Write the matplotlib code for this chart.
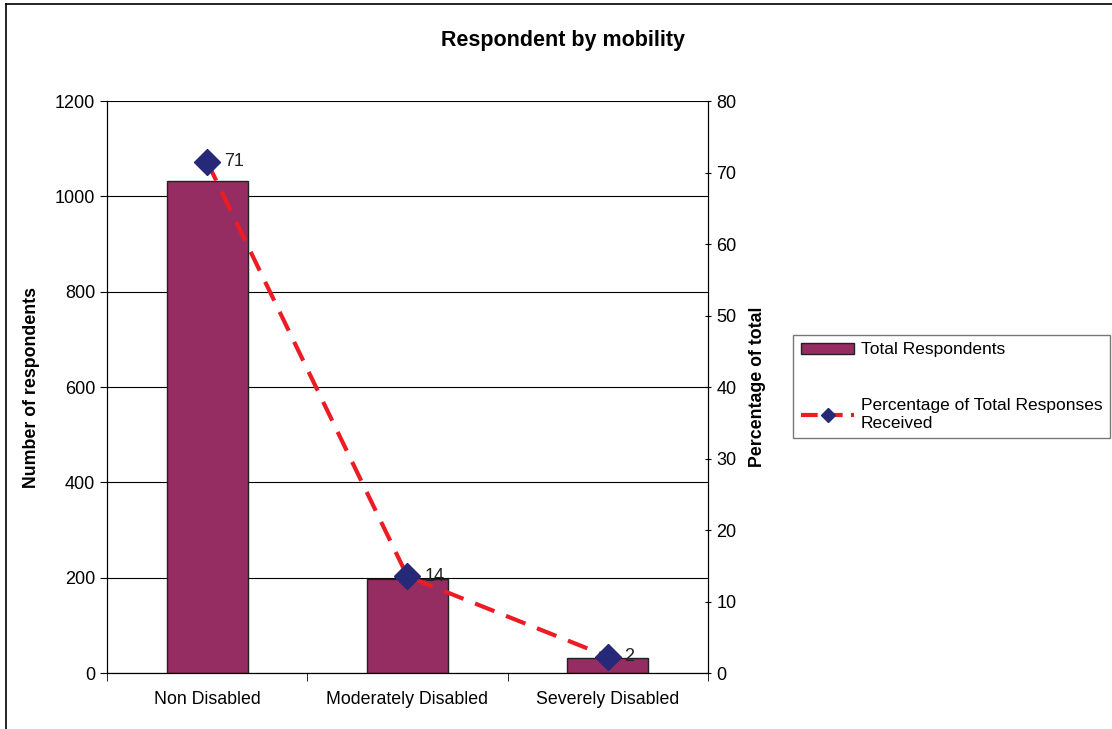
import matplotlib
matplotlib.use("Agg")
import matplotlib.pyplot as plt
from matplotlib.lines import Line2D
from matplotlib.patches import Patch
import numpy as np

plt.rcParams['font.family'] = ['Liberation Sans', 'DejaVu Sans']

categories = ["Non Disabled", "Moderately Disabled", "Severely Disabled"]
respondents = [1033, 198, 32]
percent = [71.5, 13.5, 2.3]
percent_labels = ["71", "14", "2"]

fig = plt.figure(figsize=(11.12, 7.29), dpi=100)
ax = fig.add_axes([0.0962, 0.0768, 0.5405, 0.7846])
ax2 = ax.twinx()

x = np.arange(len(categories))
ax.bar(x, respondents, width=0.405, color="#962D62", edgecolor="#222222",
       linewidth=1.0, zorder=2)
ax.set_xlim(-0.5, 2.5)
ax.set_ylim(0, 1200)
ax.set_yticks(range(0, 1201, 200))
ax.yaxis.grid(True, color="#000000", linewidth=0.8)
ax.set_axisbelow(True)
ax.set_xticks(x)
ax.set_xticklabels(categories, fontsize=12.8)
ax.tick_params(axis='x', length=0, pad=13)
ax.set_xticks([-0.5, 0.5, 1.5, 2.5], minor=True)
ax.tick_params(axis='x', which='minor', length=6, direction='out')
ax.tick_params(axis='y', labelsize=13, length=5, direction='out')
ax.spines["top"].set_visible(False)
ax.set_ylabel("Number of respondents", fontsize=12.8, fontweight="bold", labelpad=11)

ax2.plot(x, percent, color="#ED1C24", linestyle=(0, (5, 3)), linewidth=3,
         marker="D", markersize=13, markerfacecolor="#262878",
         markeredgecolor="#262878", zorder=3)
for xi, yi, t in zip(x, percent, percent_labels):
    ax2.annotate(t, (xi, yi), xytext=(12, 0), textcoords="offset points",
                 fontsize=13, va="center", ha="left", color="#222222")
ax2.set_ylim(0, 80)
ax2.set_yticks(range(0, 81, 10))
ax2.tick_params(axis='y', labelsize=13, length=5, direction='inout')
ax2.spines["top"].set_visible(False)
ax2.set_ylabel("Percentage of total", fontsize=12.8, fontweight="bold", labelpad=9)
ax.set_zorder(1)
ax2.set_zorder(2)

fig.text(0.506, 0.945, "Respondent by mobility", fontsize=15.5, fontweight="bold",
         ha="center", va="center")

h_bar = Patch(facecolor="#962D62", edgecolor="#222222", linewidth=1.0)
h_line = Line2D([], [], color="#ED1C24", linestyle=(0, (4, 2)), linewidth=3,
                marker="D", markersize=7, markerfacecolor="#262878",
                markeredgecolor="#262878")
leg = fig.legend([h_bar, h_line],
                 ["Total Respondents", "Percentage of Total Responses\nReceived"],
                 loc="upper left", bbox_to_anchor=(0.713, 0.541), fontsize=12.5,
                 frameon=True, fancybox=False, edgecolor="#555555",
                 labelspacing=2.35, handlelength=3.1, handleheight=0.55,
                 handletextpad=0.35, borderaxespad=0, borderpad=0.45)
leg.get_frame().set_linewidth(1.0)

fig.add_artist(Line2D([0.0054, 0.0054], [0, 0.9945], color="black", linewidth=1.2))
fig.add_artist(Line2D([0.0054, 1.0], [0.9945, 0.9945], color="black", linewidth=1.2))

fig.savefig("out.png", dpi=100)
